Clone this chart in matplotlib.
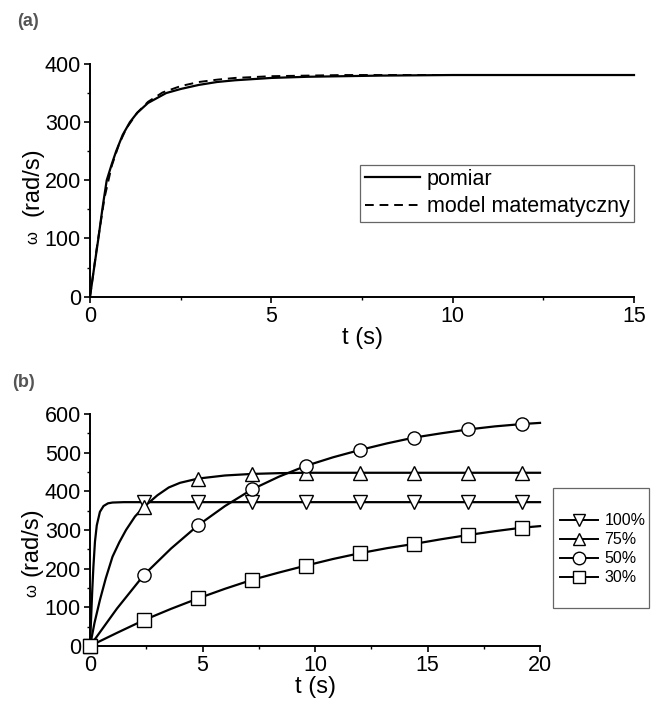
import matplotlib
matplotlib.use("Agg")
import matplotlib.pyplot as plt
from matplotlib.lines import Line2D
from matplotlib.patches import Rectangle
from matplotlib.ticker import MultipleLocator

plt.rcParams['font.family'] = ['Liberation Sans', 'DejaVu Sans']

# (a) measured vs model
t_pomiar = [0, 0.1, 0.23, 0.35, 0.46, 0.6, 0.72, 0.9, 1.1, 1.3, 1.6, 2.1, 2.5, 3.0,
            3.5, 4.0, 5.0, 6.0, 7.0, 8.0, 10.0, 12.0, 15.0]
w_pomiar = [0, 44, 100, 155, 200, 228, 250, 278, 300, 316, 333, 350, 357, 364,
            369, 372, 376, 378, 379, 380, 381, 381, 381]
t_model = [0, 0.2, 0.4, 0.6, 0.8, 1.0, 1.3, 1.6, 2.0, 2.5, 3.0, 3.5, 4.0, 5.0,
           6.0, 7.0, 8.0, 10.0, 12.0, 15.0]
w_model = [0, 90, 170, 225, 262, 289, 316, 335, 351, 362, 369, 373, 376, 379,
           380, 381, 381, 381, 381, 381]

# (b) different duty levels
labels_b = ['100%', '75%', '50%', '30%']
markers_b = ['v', '^', 'o', 's']
t_marks = [0, 2.4, 4.8, 7.2, 9.6, 12.0, 14.4, 16.8, 19.2]

t_100 = [0, 0.05, 0.1, 0.15, 0.22, 0.3, 0.44, 0.6, 0.8, 1.0, 1.5, 20]
w_100 = [0, 75, 145, 205, 270, 312, 347, 362, 369, 371, 372, 372]
m_100 = [0, 372, 372, 372, 372, 372, 372, 372, 372]

t_75 = [0, 0.2, 0.44, 0.7, 1.0, 1.3, 1.6, 2.0, 2.4, 3.0, 3.5, 4.0, 4.8, 6.0,
        7.2, 8.4, 9.6, 20]
w_75 = [0, 60, 119, 175, 231, 268, 300, 335, 360, 390, 410, 422, 433, 441,
        445, 447, 448, 448]
m_75 = [0, 360, 433, 445, 448, 448, 448, 448, 448]

t_50 = [0, 1.2, 2.4, 3.6, 4.8, 6.0, 7.2, 8.4, 9.6, 10.8, 12.0, 13.2, 14.4,
        15.6, 16.8, 18.0, 19.2, 20]
w_50 = [0, 97, 184, 252, 312, 362, 405, 438, 466, 488, 507, 524, 539,
        550, 560, 568, 574, 577]
m_50 = [0, 184, 312, 405, 466, 507, 539, 560, 574]

t_30 = [0, 1.2, 2.4, 3.6, 4.8, 6.0, 7.2, 8.4, 9.6, 10.8, 12.0, 13.2, 14.4,
        15.6, 16.8, 18.0, 19.2, 20]
w_30 = [0, 34, 67, 96, 123, 148, 171, 190, 208, 225, 240, 253, 264,
        276, 287, 297, 306, 310]
m_30 = [0, 67, 123, 171, 208, 240, 264, 287, 306]

curves_b = [(t_100, w_100, m_100), (t_75, w_75, m_75),
            (t_50, w_50, m_50), (t_30, w_30, m_30)]

fig = plt.figure(figsize=(6.6, 7.03), dpi=100)
ax1 = fig.add_axes([0.1364, 0.578, 0.8242, 0.331])
ax2 = fig.add_axes([0.1364, 0.0811, 0.6818, 0.33])


def style_axes(ax):
    for s in ['top', 'right']:
        ax.spines[s].set_visible(False)
    for s in ['left', 'bottom']:
        ax.spines[s].set_linewidth(1.4)
    ax.tick_params(which='major', direction='out', length=4.5, width=1.2,
                   labelsize=15.5, pad=2)
    ax.tick_params(which='minor', direction='out', length=2.5, width=1.0)
    ax.xaxis.set_major_locator(MultipleLocator(5))
    ax.xaxis.set_minor_locator(MultipleLocator(2.5))
    ax.yaxis.set_major_locator(MultipleLocator(100))
    ax.yaxis.set_minor_locator(MultipleLocator(50))


# panel (a)
ax1.plot(t_pomiar, w_pomiar, color='black', lw=1.6, label='pomiar', clip_on=False)
ax1.plot(t_model, w_model, color='black', lw=1.4, dashes=(4.5, 3),
         label='model matematyczny', clip_on=False)
ax1.set_xlim(0, 15)
ax1.set_ylim(0, 400)
style_axes(ax1)
ax1.set_xlabel('t (s)', fontsize=17, labelpad=0)
ax1.text(-0.105, 0.494, '(rad/s)', transform=ax1.transAxes, rotation=90,
         fontsize=17, ha='center', va='center')
ax1.text(-0.105, 0.255, 'ω', transform=ax1.transAxes, rotation=90,
         fontsize=12, ha='center', va='center')
leg1 = ax1.legend(loc='upper right', bbox_to_anchor=(1.0, 0.567),
                  borderaxespad=0, fontsize=15.5, handlelength=2.6,
                  handletextpad=0.3, labelspacing=0.3, borderpad=0.2,
                  fancybox=False, framealpha=1)
leg1.get_frame().set_edgecolor('#666666')
leg1.get_frame().set_linewidth(0.9)

# panel (b)
handles = []
for (tc, wc, wm), mk, lab in zip(curves_b, markers_b, labels_b):
    ax2.plot(tc, wc, color='black', lw=1.6, zorder=2, clip_on=False)
    ax2.plot(t_marks, wm, ls='none', marker=mk, ms=9.5, mfc='white',
             mec='black', mew=1.0, zorder=3, clip_on=False)
    handles.append(Line2D([], [], color='black', lw=1.4, marker=mk, ms=9,
                          mfc='white', mec='black', mew=1.0, label=lab))
ax2.set_xlim(0, 20)
ax2.set_ylim(0, 600)
style_axes(ax2)
ax2.set_xlabel('t (s)', fontsize=17, labelpad=0)
ax2.text(-0.129, 0.448, '(rad/s)', transform=ax2.transAxes, rotation=90,
         fontsize=17, ha='center', va='center')
ax2.text(-0.129, 0.24, 'ω', transform=ax2.transAxes, rotation=90,
         fontsize=12, ha='center', va='center')
ax2.legend(handles=handles, loc='center left', bbox_to_anchor=(1.044, 0.416),
           borderaxespad=0, borderpad=0, frameon=False, fontsize=11.5,
           handlelength=2.4, handletextpad=0.4, labelspacing=0.25, numpoints=1)
ax2.add_patch(Rectangle((1.029, 0.164), 0.213, 0.517, transform=ax2.transAxes,
                        fill=False, edgecolor='#666666', lw=0.9, clip_on=False))

fig.text(17 / 660, 1 - 22 / 703, '(a)', fontsize=13, fontweight='bold',
         color='#555555', va='center', ha='left')
fig.text(12 / 660, 1 - 382 / 703, '(b)', fontsize=13, fontweight='bold',
         color='#555555', va='center', ha='left')

fig.savefig('out.png', dpi=100, facecolor='white')
